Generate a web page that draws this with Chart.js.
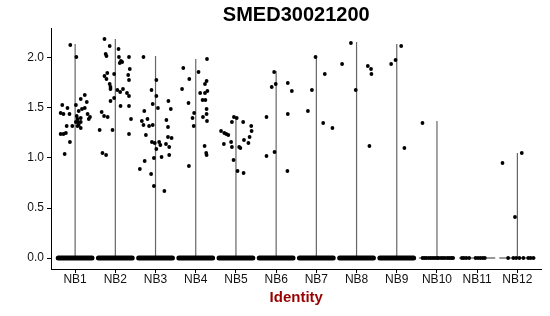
<!DOCTYPE html>
<html>
<head>
<meta charset="utf-8">
<script src="https://cdn.jsdelivr.net/npm/chart.js@4"></script>
<style>
  body { margin: 0; background: #fff; }
</style>
</head>
<body>
<canvas id="myChart" width="550" height="316"></canvas>
<script>
const categories = ["NB1", "NB2", "NB3", "NB4", "NB5", "NB6", "NB7", "NB8", "NB9", "NB10", "NB11", "NB12"];
const yTicks = [0, 0.5, 1, 1.5, 2];
const titleText = "SMED30021200";
// top of the (collapsed) violin for each identity
const violinMax = [2.14, 2.19, 2.02, 1.99, 1.41, 1.87, 2.02, 2.16, 2.14, 1.37, 0, 1.05];

// expressing cells: [jitter offset, value]
const nb1 = [[-0.12, 2.13], [0.03, 2.01], [-0.32, 1.53], [-0.19, 1.50], [0.24, 1.63], [0.14, 1.59], [0.29, 1.56],
  [0.02, 1.53], [0.17, 1.49], [0.24, 1.50], [0.09, 1.47], [-0.36, 1.45], [-0.29, 1.44], [-0.14, 1.44], [0.31, 1.44],
  [0.37, 1.41], [0.34, 1.39], [0.04, 1.42], [0.06, 1.39], [0.14, 1.40], [0.07, 1.36], [0.02, 1.36], [0.14, 1.36],
  [-0.21, 1.32], [-0.07, 1.32], [0.06, 1.32], [0.09, 1.33], [0.14, 1.30], [-0.36, 1.24], [-0.29, 1.24], [-0.23, 1.25],
  [-0.13, 1.16], [-0.26, 1.04]];
const nb2 = [[-0.27, 2.19], [-0.14, 2.12], [0.08, 2.09], [-0.24, 2.04], [-0.22, 2.02], [0.09, 2.01], [0.34, 2.01],
  [0.14, 1.97], [0.17, 1.96], [0.11, 1.95], [0.36, 1.89], [-0.20, 1.85], [-0.27, 1.82], [-0.03, 1.84], [0.32, 1.83],
  [-0.22, 1.79], [0.34, 1.78], [-0.14, 1.74], [-0.12, 1.71], [-0.12, 1.69], [0.05, 1.68], [0.12, 1.66], [0.19, 1.69],
  [0.29, 1.65], [0.34, 1.62], [-0.03, 1.60], [-0.12, 1.57], [0.13, 1.52], [0.34, 1.52], [-0.34, 1.46], [-0.28, 1.42],
  [-0.19, 1.41], [0.39, 1.39], [-0.39, 1.28], [-0.07, 1.28], [0.34, 1.24], [-0.32, 1.05], [-0.23, 1.03]];
const nb3 = [[-0.30, 2.01], [0.02, 1.78], [-0.10, 1.68], [0.02, 1.62], [0.32, 1.57], [-0.07, 1.54], [0.06, 1.50],
  [0.38, 1.49], [-0.28, 1.47], [-0.34, 1.37], [-0.20, 1.39], [-0.30, 1.33], [-0.16, 1.32], [-0.07, 1.33], [0.27, 1.38],
  [0.31, 1.31], [-0.24, 1.23], [0.31, 1.21], [0.40, 1.20], [-0.09, 1.16], [-0.02, 1.15], [0.09, 1.16], [0.12, 1.13],
  [0.26, 1.14], [0.34, 1.11], [0.02, 1.09], [0.34, 1.03], [0.15, 1.01], [-0.04, 1.00], [-0.27, 0.97], [-0.39, 0.89],
  [-0.11, 0.84], [-0.04, 0.72], [0.22, 0.67]];
const nb4 = [[0.28, 1.99], [-0.31, 1.90], [0.07, 1.86], [-0.16, 1.79], [0.27, 1.77], [0.23, 1.74], [-0.34, 1.69],
  [0.29, 1.67], [0.11, 1.65], [0.23, 1.65], [0.17, 1.58], [0.24, 1.58], [-0.18, 1.55], [0.27, 1.49], [-0.04, 1.45],
  [0.27, 1.44], [-0.08, 1.40], [0.18, 1.41], [0.28, 1.37], [-0.05, 1.32], [0.22, 1.12], [0.26, 1.05], [0.27, 1.03],
  [-0.17, 0.92]];
const nb5 = [[-0.05, 1.41], [0.02, 1.40], [-0.10, 1.36], [0.18, 1.36], [0.38, 1.32], [-0.37, 1.27], [-0.29, 1.25],
  [-0.24, 1.24], [-0.19, 1.23], [0.39, 1.27], [0.34, 1.21], [0.20, 1.18], [-0.12, 1.16], [0.31, 1.15], [-0.30, 1.14],
  [-0.10, 1.11], [0.08, 1.11], [0.11, 1.10], [-0.06, 0.98], [0.04, 0.87], [0.19, 0.85]];
const nb6 = [[-0.05, 1.86], [-0.11, 1.71], [-0.01, 1.74], [0.29, 1.75], [0.39, 1.67], [-0.24, 1.41], [0.29, 1.44],
  [-0.04, 1.06], [-0.24, 1.02], [0.28, 0.87]];
const nb7 = [[-0.02, 2.01], [0.21, 1.84], [-0.11, 1.68], [-0.21, 1.47], [0.17, 1.35], [0.40, 1.30]];
const nb8 = [[-0.14, 2.15], [-0.36, 1.94], [-0.02, 1.68], [0.28, 1.92], [0.36, 1.89], [0.37, 1.84], [0.32, 1.12]];
const nb9 = [[0.11, 2.12], [-0.03, 1.98], [-0.14, 1.94], [0.19, 1.10]];
const nb10 = [[-0.36, 1.35]];
const nb11 = [];
const nb12 = [[0.11, 1.05], [-0.37, 0.95], [-0.06, 0.41]];

// zero-valued cells for the sparse identities (NB1..NB9 are a solid band)
const nb10Zero = [-0.36, -0.31, -0.26, -0.2, -0.15, -0.1, -0.05, 0, 0.04, 0.1, 0.15, 0.2, 0.26, 0.31, 0.36, 0.4];
const nb11Zero = [-0.38, -0.33, -0.27, -0.2, -0.04, 0.02, 0.08, 0.14, 0.19];
const nb12Zero = [-0.23, -0.1, -0.03, 0.05, 0.15, 0.27, 0.33, 0.4];

const groups = [nb1, nb2, nb3, nb4, nb5, nb6, nb7, nb8, nb9, nb10, nb11, nb12];
const sparseZero = { 10: nb10Zero, 11: nb11Zero, 12: nb12Zero };

const font = "'Liberation Sans', Arial, sans-serif";

let points = [];
groups.forEach((arr, i) => arr.forEach(([dx, y]) => points.push({ x: i + 1 + dx, y: y })));
Object.keys(sparseZero).forEach((k) => {
  sparseZero[k].forEach((dx) => points.push({ x: +k + dx, y: 0 }));
});

let violin = [];
violinMax.forEach((m, i) => {
  if (m > 0) violin.push({ x: i + 1, y: 0 }, { x: i + 1, y: m }, { x: i + 1, y: null });
});

let band = [];
let thin = [];
categories.forEach((c, i) => {
  if (sparseZero[i + 1]) {
    thin.push({ x: i + 1 - 0.45, y: 0 }, { x: i + 1 + 0.45, y: 0 }, { x: i + 1, y: null });
  } else {
    band.push({ x: i + 1 - 0.42, y: 0 }, { x: i + 1 + 0.42, y: 0 }, { x: i + 1, y: null });
  }
});

// title centred over the panel, like ggplot does
const panelTitle = {
  id: "panelTitle",
  afterDraw(chart) {
    const { ctx, chartArea } = chart;
    ctx.save();
    ctx.fillStyle = "#000";
    ctx.font = "bold 20px " + font;
    ctx.textAlign = "center";
    ctx.textBaseline = "middle";
    ctx.fillText(titleText, (chartArea.left + chartArea.right) / 2, 15);
    ctx.restore();
  },
};

var ctx = document.getElementById("myChart").getContext("2d");
var chart = new Chart(ctx, {
  type: "scatter",
  data: {
    datasets: [
      {
        data: points,
        pointRadius: 1.9,
        pointBackgroundColor: "#000",
        pointBorderWidth: 0,
      },
      {
        data: band,
        showLine: true,
        borderColor: "#000",
        borderWidth: 5,
        borderCapStyle: "round",
        pointRadius: 0,
        spanGaps: false,
      },
      {
        data: thin,
        showLine: true,
        borderColor: "#333",
        borderWidth: 1,
        pointRadius: 0,
        spanGaps: false,
      },
      {
        data: violin,
        showLine: true,
        borderColor: "#666",
        borderWidth: 1.2,
        pointRadius: 0,
        spanGaps: false,
      },
    ],
  },
  plugins: [panelTitle],
  options: {
    responsive: false,
    animation: false,
    layout: { padding: { left: 0, right: 8.5, top: 28, bottom: 0 } },
    plugins: {
      legend: { display: false },
      tooltip: { enabled: false },
    },
    scales: {
      x: {
        type: "linear",
        min: 0.4,
        max: 12.6,
        afterBuildTicks: (scale) => {
          scale.ticks = categories.map((c, i) => ({ value: i + 1 }));
        },
        afterFit: (scale) => {
          scale.height = 47;
        },
        ticks: {
          callback: (v) => categories[Math.round(v) - 1],
          color: "#111",
          font: { family: font, size: 12 },
          padding: -1,
          maxRotation: 0,
          autoSkip: false,
        },
        grid: { drawOnChartArea: false, tickLength: 4, color: "#000" },
        border: { display: true, color: "#000", width: 1 },
        title: {
          display: true,
          text: "Identity",
          color: "#990000",
          font: { family: font, size: 15, weight: "bold" },
          padding: { top: 0, bottom: 9 },
        },
      },
      y: {
        min: -0.11,
        max: 2.3,
        afterBuildTicks: (scale) => {
          scale.ticks = yTicks.map((v) => ({ value: v }));
        },
        afterFit: (scale) => {
          scale.width = 51;
        },
        ticks: {
          callback: (v) => v.toFixed(1),
          color: "#111",
          font: { family: font, size: 12 },
          padding: 3,
        },
        grid: { drawOnChartArea: false, tickLength: 4, color: "#000" },
        border: { display: true, color: "#000", width: 1 },
      },
    },
  },
});
</script>
</body>
</html>
